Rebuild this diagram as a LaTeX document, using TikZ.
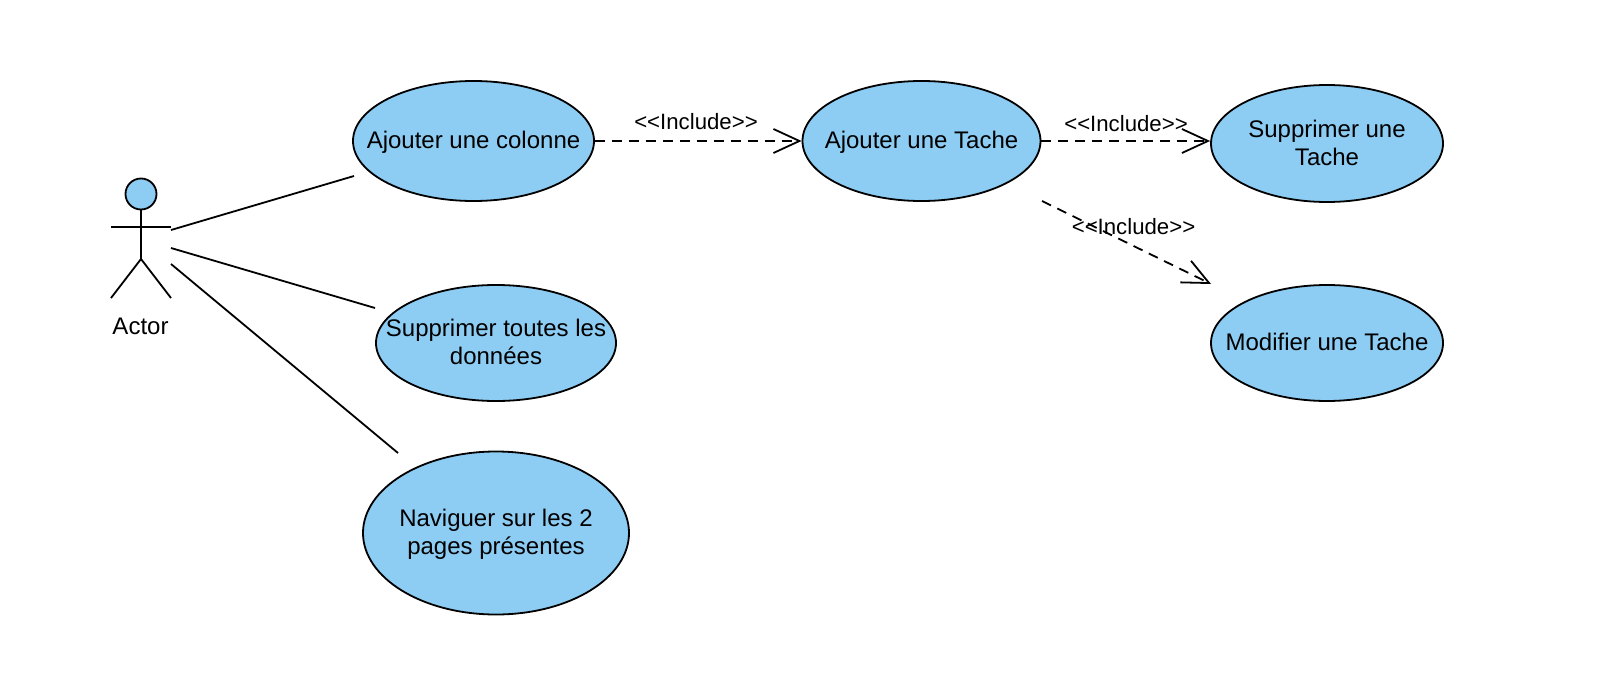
\documentclass[tikz,border=0pt]{standalone}
\usepackage{fontspec}
\setmainfont{Liberation Sans}
\usetikzlibrary{arrows.meta,shapes.geometric}
\definecolor{usefill}{HTML}{8DCCF3}
\newcommand{\casetext}[1]{\makebox[0pt]{\smash{\raisebox{-0.35em}{\begin{tabular}[c]{@{}c@{}}#1\end{tabular}}}}}
\tikzset{
	usecase/.style={ellipse, draw, fill=usefill, line width=1.8pt, inner sep=0pt, font=\fontsize{24}{28}\selectfont},
	assoc/.style={line width=1.8pt},
	incl/.style={line width=1.8pt, dash pattern=on 10pt off 7pt, -{Straight Barb[length=26pt,width=24pt,line width=1.8pt]}},
	incllabel/.style={font=\fontsize{22.2}{26}\selectfont, inner sep=0pt},
}
\begin{document}
\begin{tikzpicture}[x=1pt,y=-1pt]
	\useasboundingbox (0,0) rectangle (1620,688);
	\node[usecase, minimum width=241pt, minimum height=120pt] (colonne) at (473.5,141) {\casetext{Ajouter une colonne}};
	\node[usecase, minimum width=238pt, minimum height=120pt] (tache) at (921.5,141) {\casetext{Ajouter une Tache}};
	\node[usecase, minimum width=232pt, minimum height=117pt] (suppr) at (1327,143.5) {\casetext{Supprimer une\\Tache}};
	\node[usecase, minimum width=232pt, minimum height=116pt] (modif) at (1327,343) {\casetext{Modifier une Tache}};
	\node[usecase, minimum width=240pt, minimum height=116pt] (donnees) at (496,343) {\casetext{Supprimer toutes les\\données}};
	\node[usecase, minimum width=266pt, minimum height=163pt] (pages) at (496,533) {\casetext{Naviguer sur les 2\\pages présentes}};

	% actor
	\node[circle, draw, fill=usefill, line width=1.8pt, minimum size=31pt, inner sep=0pt] (head) at (141,194) {};
	\coordinate (hip) at (141,259);
	\coordinate (armL) at (111,227);
	\coordinate (armR) at (171,227);
	\coordinate (footL) at (111,298);
	\coordinate (footR) at (171,298);
	\draw[assoc] (head.south) -- (hip);
	\draw[assoc] (armL) -- (armR);
	\draw[assoc] (footL) -- (hip) -- (footR);
	\node[font=\fontsize{24}{28}\selectfont, inner sep=0pt] (actor) at (140.5,326) {Actor};

	\coordinate (a1) at (171,230);
	\coordinate (a2) at (171,248);
	\coordinate (a3) at (171,264);
	\coordinate (u1) at (354,176);
	\coordinate (u2) at (375,308);
	\coordinate (u3) at (398,453);
	\foreach \i in {1,2,3}
	  {
	      \draw[assoc] (a\i) -- (u\i);
	  }

	\draw[incl] (colonne.east) -- (tache.west);
	\draw[incl] (tache.east) -- (tache.east -| suppr.west);
	\coordinate (from3) at (1042,201);
	\coordinate (to3) at (1211,284);
	\draw[incl] (from3) -- (to3);

	\foreach \n/\x/\y in {one/696/122,two/1126/124,three/1133.5/227}
	  {
	      \node[incllabel] (lab\n) at (\x,\y) {<{}<Include>{}>};
	  }
\end{tikzpicture}
\end{document}
